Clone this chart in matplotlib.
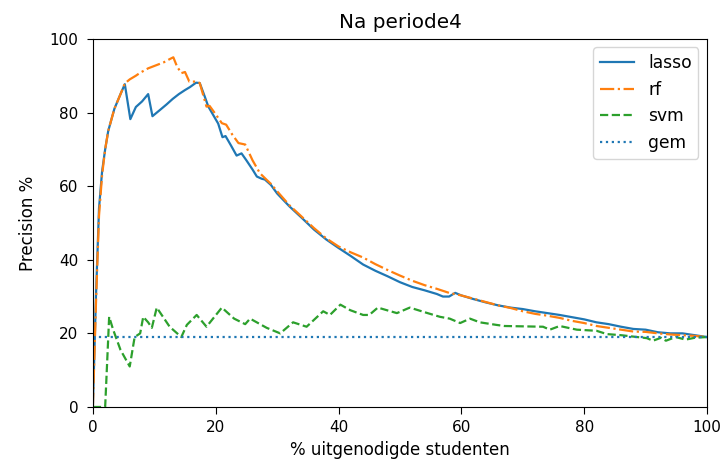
import matplotlib
matplotlib.use("Agg")
import matplotlib.pyplot as plt

plt.rcParams["font.size"] = 12
plt.rcParams["xtick.labelsize"] = 11
plt.rcParams["ytick.labelsize"] = 11
plt.rcParams["xtick.major.size"] = 5
plt.rcParams["ytick.major.size"] = 4
plt.rcParams["xtick.major.pad"] = 4.5
plt.rcParams["ytick.major.pad"] = 6.5

# lasso precision curve
lasso_x = [0, 0.5, 1, 1.5, 2, 2.5, 3, 3.5, 4, 4.5, 5.2, 6.1, 7, 8, 9.0, 9.7, 11, 12, 13, 14,
           15, 15.8, 16.8, 17.4, 18.2, 18.8, 20.4, 21.1, 21.6, 22.5, 23.4, 24.2, 25, 26, 26.7,
           27.5, 28, 29, 30, 32, 34, 36, 38, 40, 42, 44, 46, 48, 50, 52, 54, 56, 57, 58, 59,
           60, 62, 64, 66, 68, 70, 72, 74, 76, 78, 80, 82, 84, 86, 88, 90, 92, 94, 96, 98, 100]
lasso_y = [0, 30, 54, 64, 70, 75, 78, 81, 83, 85, 87.7, 78.2, 81.5, 83, 85, 79, 80.8, 82.2, 83.7, 85,
           86.1, 86.9, 88.1, 88, 84.4, 81.6, 77, 73.3, 73.6, 71, 68.3, 68.9, 67, 64.5, 62.6,
           62, 61.8, 60.3, 58, 54.5, 51.4, 48.2, 45.5, 43.2, 41, 38.7, 37, 35.5, 33.9, 32.6, 31.7, 30.7, 30, 30, 31,
           30.3, 29.3, 28.4, 27.6, 27, 26.6, 26, 25.5, 25, 24.4, 23.8, 23, 22.5, 21.8, 21.2, 21, 20.3, 20, 20, 19.5, 19]

# random forest precision curve
rf_x = [0, 0.5, 1, 1.5, 2, 2.5, 3, 3.5, 4, 4.5, 5.2, 6, 7, 7.7, 9, 10.4, 11.5, 12.5, 13.1, 13.7,
        14.4, 15, 15.7, 16.9, 17.4, 18.5, 19, 20, 21, 21.7, 22.7, 23.7, 24.8, 26, 27.2, 28.3, 29,
        30, 32, 34, 36, 38, 40, 42, 44, 46, 48, 50, 52, 54, 56, 58, 60, 62, 64, 66, 68, 70,
        72, 74, 76, 78, 80, 82, 84, 86, 88, 90, 92, 94, 96, 98, 100]
rf_y = [0, 28, 52, 63, 70, 75, 78, 81, 83, 85, 87.9, 89, 90, 90.8, 92, 92.9, 93.6, 94.5, 95, 92.5,
        90.7, 91, 88.4, 88.4, 88, 81.6, 81.8, 79.5, 77.1, 76.7, 74, 71.7, 71.3, 67, 63.5, 61.7, 60.6,
        58.6, 54.8, 51.7, 48.6, 45.8, 43.6, 42, 40.6, 38.8, 37.2, 35.7, 34.3, 33.1, 32.1, 31, 30.3, 29.4,
        28.5, 27.6, 26.9, 26, 25.3, 24.8, 24.2, 23.4, 22.8, 22, 21.5, 21, 20.5, 20.4, 20, 19.7, 19.5, 19.3, 19]

# svm precision curve
svm_x = [0, 0.8, 2.0, 2.65, 3.3, 4.5, 6.0, 6.8, 7.7, 8.2, 9.0, 9.6, 10.4, 12.5, 14.4, 15.3, 16.9,
         18.5, 21.0, 23.0, 24.8, 25.6, 28.3, 30.5, 32.6, 34.8, 37.5, 38.6, 40.3, 41.9, 44, 45,
         46.4, 49.5, 51.6, 54.3, 56.5, 58.1, 59.8, 61.4, 63, 65.7, 67, 73.3, 74.4, 76, 78.8, 82,
         83.7, 86, 90.2, 91.2, 92.5, 93.3, 94.9, 96.5, 98, 100]
svm_y = [0, 0, 0, 24.5, 21, 15.5, 11, 19, 20, 24.5, 23, 21.5, 27, 21.8, 19, 22.3, 25,
         21.8, 27, 24, 22.5, 24, 21.5, 20, 23, 21.8, 26, 25, 27.8, 26.3, 25, 25,
         27, 25.5, 27, 25.6, 24.5, 24, 22.8, 24, 23, 22.3, 22, 21.8, 21, 22, 21, 20.7,
         19.8, 19.5, 18.7, 18, 18.8, 18, 19, 18.3, 18.8, 19]

# baseline: average precision
gem_x = [0, 100]
gem_y = [19, 19]

fig = plt.figure(figsize=(7.2, 4.63), dpi=100)
ax = fig.add_axes([0.129, 0.121, 0.853, 0.795])

ax.plot(lasso_x, lasso_y, "-", color="#1f77b4", lw=1.6, label="lasso")
ax.plot(rf_x, rf_y, "-.", color="#ff7f0e", lw=1.6, label="rf")
ax.plot(svm_x, svm_y, "--", color="#2ca02c", lw=1.6, label="svm")
ax.plot(gem_x, gem_y, ":", color="#1f77b4", lw=1.6, label="gem")

ax.set_xlim(0, 100)
ax.set_ylim(0, 100)
ax.set_xticks([0, 20, 40, 60, 80, 100])
ax.set_yticks([0, 20, 40, 60, 80, 100])
ax.set_title("Na periode4", fontsize=14.4, pad=8)
ax.set_xlabel("% uitgenodigde studenten", labelpad=4)
ax.set_ylabel("Precision %", labelpad=9)
ax.legend(loc="upper right", fontsize=12.3)

fig.savefig("out.png", dpi=100)
